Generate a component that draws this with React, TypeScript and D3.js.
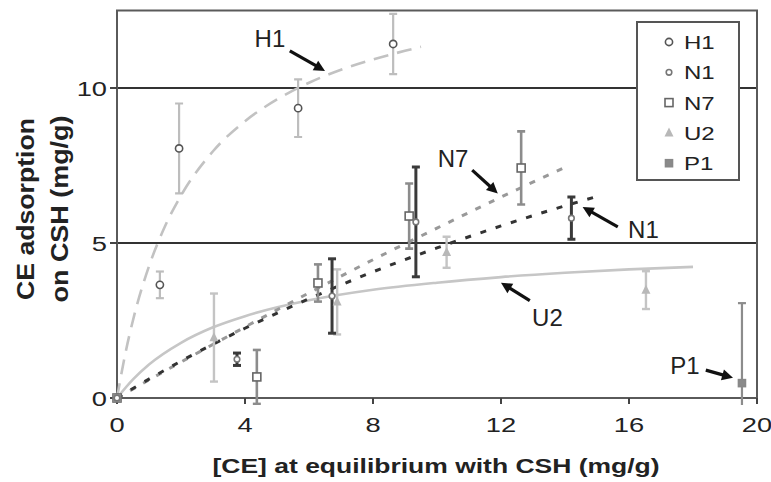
import React from "react";
import * as d3 from "d3";

// ---- data ----
const xTicks = [0, 4, 8, 12, 16, 20];
const yTicks = [0, 5, 10];
const gridLines = [5, 10];

// measured points: [x, y, errorHalfWidth]
const h1Points: [number, number, number][] = [
  [0, 0, 0], [1.34, 3.65, 0.43], [1.94, 8.05, 1.45], [5.66, 9.35, 0.93], [8.63, 11.42, 0.97],
];
const n1Points: [number, number, number][] = [
  [0, 0, 0], [3.75, 1.25, 0.2], [6.72, 3.29, 1.2], [9.34, 5.68, 1.77], [14.2, 5.8, 0.68],
];
const n7Points: [number, number, number][] = [
  [0, 0, 0], [4.37, 0.68, 0.87], [6.28, 3.71, 0.6], [9.13, 5.87, 1.05], [12.63, 7.42, 1.18],
];
const u2Points: [number, number, number][] = [
  [0, 0, 0], [3.03, 1.95, 1.42], [6.88, 3.1, 1.05], [10.3, 4.7, 0.5], [16.53, 3.48, 0.61],
];
const p1Points: [number, number, number][] = [
  [0, 0, 0], [19.53, 0.48, 2.58],
];

// fitted curves: x and y arrays
const h1CurveX = [0, 0.25, 0.5, 1, 1.5, 2, 3, 4, 5, 6, 7, 8, 9, 9.5];
const h1CurveY = [0, 1.38, 2.51, 4.25, 5.54, 6.53, 7.96, 8.93, 9.63, 10.17, 10.59, 10.92, 11.2, 11.33];
const n1CurveX = [0, 1, 2, 4, 6, 8, 10, 12, 14, 15];
const n1CurveY = [0, 0.61, 1.19, 2.25, 3.2, 4.07, 4.84, 5.55, 6.2, 6.5];
const n7CurveX = [0, 2, 4, 6, 8, 10, 12, 14];
const n7CurveY = [0, 1.16, 2.29, 3.39, 4.46, 5.48, 6.48, 7.44];
const u2CurveX = [0, 0.5, 1, 2, 3, 4, 6, 8, 10, 12, 14, 16, 18];
const u2CurveY = [0, 0.6, 1.08, 1.78, 2.28, 2.64, 3.15, 3.49, 3.72, 3.9, 4.04, 4.15, 4.23];

const legendLabels = ["H1", "N1", "N7", "U2", "P1"];

// annotation labels: label position and arrow (from -> to), in data units
const annotations: { label: string; tx: number; ty: number; fx: number; fy: number; ax: number; ay: number }[] = [
  { label: "H1", tx: 4.78, ty: 11.62, fx: 5.4, fy: 11.2, ax: 6.5, ay: 10.55 },
  { label: "N7", tx: 10.5, ty: 7.75, fx: 11.1, fy: 7.35, ax: 11.9, ay: 6.6 },
  { label: "N1", tx: 16.45, ty: 5.45, fx: 15.65, fy: 5.52, ax: 14.55, ay: 6.16 },
  { label: "U2", tx: 13.45, ty: 2.6, fx: 12.9, fy: 3.14, ax: 12.0, ay: 3.72 },
  { label: "P1", tx: 17.75, ty: 1.08, fx: 18.4, fy: 0.9, ax: 19.25, ay: 0.65 },
];

const W = 771;
const H = 482;

export default function App() {
  const x = d3.scaleLinear().domain([0, 20]).range([117, 757]);
  const y = d3.scaleLinear().domain([0, 12.5]).range([398, 10.5]);

  const line = d3
    .line<[number, number]>()
    .x((d) => x(d[0]))
    .y((d) => y(d[1]))
    .curve(d3.curveMonotoneX);

  const zip = (xs: number[], ys: number[]) => xs.map((v, i) => [v, ys[i]] as [number, number]);

  const font = "'Liberation Sans', Arial, Helvetica, sans-serif";

  const errorBars = (pts: [number, number, number][], color: string, width: number) =>
    pts
      .filter((p) => p[2] > 0)
      .map((p, i) => {
        const cx = x(p[0]);
        const top = y(p[1] + p[2]);
        const bot = y(p[1] - p[2]);
        return (
          <g key={i} stroke={color} strokeWidth={width}>
            <line x1={cx} x2={cx} y1={top} y2={bot} />
            <line x1={cx - 4} x2={cx + 4} y1={top} y2={top} />
            <line x1={cx - 4} x2={cx + 4} y1={bot} y2={bot} />
          </g>
        );
      });

  const circle = (cx: number, cy: number, r: number, stroke: string, k: string) => (
    <circle key={k} cx={cx} cy={cy} r={r} fill="white" stroke={stroke} strokeWidth={1.6} />
  );
  const square = (cx: number, cy: number, s: number, stroke: string, fill: string, k: string) => (
    <rect key={k} x={cx - s / 2} y={cy - s / 2} width={s} height={s} fill={fill} stroke={stroke} strokeWidth={1.6} />
  );
  const triangle = (cx: number, cy: number, s: number, fill: string, k: string) => (
    <path
      key={k}
      d={`M${cx},${cy - s * 0.6}L${cx + s / 2},${cy + s * 0.4}L${cx - s / 2},${cy + s * 0.4}Z`}
      fill={fill}
    />
  );

  const markerFor = (name: string, cx: number, cy: number, k: string) => {
    switch (name) {
      case "H1":
        return circle(cx, cy, 3.6, "#555", k);
      case "N1":
        return circle(cx, cy, 2.8, "#777", k);
      case "N7":
        return square(cx, cy, 8, "#666", "white", k);
      case "U2":
        return triangle(cx, cy, 9, "#b8b8b8", k);
      default:
        return square(cx, cy, 7, "#888", "#8a8a8a", k);
    }
  };

  const stretchText = (
    txt: string,
    tx: number,
    ty: number,
    size: number,
    sx: number,
    anchor: "start" | "middle" | "end",
    k: string,
    weight = "normal",
  ) => (
    <text
      key={k}
      transform={`translate(${tx},${ty}) scale(${sx},1)`}
      textAnchor={anchor}
      fontSize={size}
      fontFamily={font}
      fontWeight={weight}
      fill="#222"
    >
      {txt}
    </text>
  );

  const arrowHead = (fx: number, fy: number, ax: number, ay: number) => {
    const ang = Math.atan2(ay - fy, ax - fx);
    const len = 11;
    const wid = 5.5;
    const bx = ax - len * Math.cos(ang);
    const by = ay - len * Math.sin(ang);
    const px = -Math.sin(ang) * wid;
    const py = Math.cos(ang) * wid;
    return `M${ax},${ay}L${bx + px},${by + py}L${bx - px},${by - py}Z`;
  };

  const series: { name: string; pts: [number, number, number][]; ec: string; ew: number }[] = [
    { name: "U2", pts: u2Points, ec: "#c4c4c4", ew: 2.4 },
    { name: "H1", pts: h1Points, ec: "#bdbdbd", ew: 2.2 },
    { name: "N7", pts: n7Points, ec: "#8c8c8c", ew: 2.6 },
    { name: "P1", pts: p1Points, ec: "#8c8c8c", ew: 2.2 },
    { name: "N1", pts: n1Points, ec: "#3a3a3a", ew: 3 },
  ];

  const legendX = 637;
  const legendY = 22;

  return (
    <svg width={W} height={H} style={{ position: "absolute", left: 0, top: 0, background: "white" }}>
      <defs>
        <clipPath id="plotclip">
          <rect x={x(0)} y={y(12.5)} width={x(20) - x(0)} height={y(0) - y(12.5) + 7} />
        </clipPath>
      </defs>
      <rect x={0} y={0} width={W} height={H} fill="white" />

      {/* gridlines */}
      {gridLines.map((g) => (
        <line key={g} x1={x(0)} x2={x(20)} y1={y(g)} y2={y(g)} stroke="#333" strokeWidth={2} />
      ))}

      {/* frame */}
      <rect
        x={x(0)}
        y={y(12.5)}
        width={x(20) - x(0)}
        height={y(0) - y(12.5)}
        fill="none"
        stroke="#5a5a5a"
        strokeWidth={2}
      />

      {/* ticks */}
      {xTicks.map((t) => (
        <line key={"xt" + t} x1={x(t)} x2={x(t)} y1={y(0)} y2={y(0) + 6} stroke="#444" strokeWidth={2} />
      ))}
      {yTicks.map((t) => (
        <line key={"yt" + t} x1={x(0) - 7} x2={x(0)} y1={y(t)} y2={y(t)} stroke="#444" strokeWidth={2} />
      ))}
      {xTicks.map((t) => stretchText(String(t), x(t), 432, 21, 1.3, "middle", "xl" + t))}
      {yTicks.map((t) => stretchText(String(t), 107, y(t) + 7.5, 21, 1.3, "end", "yl" + t))}

      {/* curves */}
      <g fill="none">
        <path d={line(zip(u2CurveX, u2CurveY)) || ""} stroke="#c6c6c6" strokeWidth={2.6} />
        <path
          d={line(zip(h1CurveX, h1CurveY)) || ""}
          stroke="#c2c2c2"
          strokeWidth={2.6}
          strokeDasharray="15 9"
        />
        <path
          d={line(zip(n7CurveX, n7CurveY)) || ""}
          stroke="#999"
          strokeWidth={3}
          strokeDasharray="6 9"
        />
        <path
          d={line(zip(n1CurveX, n1CurveY)) || ""}
          stroke="#333"
          strokeWidth={3}
          strokeDasharray="6 10"
        />
      </g>

      {/* error bars */}
      <g clipPath="url(#plotclip)">{series.map((s) => <g key={s.name}>{errorBars(s.pts, s.ec, s.ew)}</g>)}</g>

      {/* markers */}
      {series.map((s) => (
        <g key={"m" + s.name}>{s.pts.map((p, i) => markerFor(s.name, x(p[0]), y(p[1]), s.name + i))}</g>
      ))}

      {/* annotations */}
      {annotations.map((a) => {
        const fx = x(a.fx), fy = y(a.fy), ax = x(a.ax), ay = y(a.ay);
        const ang = Math.atan2(ay - fy, ax - fx);
        return (
          <g key={"an" + a.label}>
            <text
              x={x(a.tx)}
              y={y(a.ty) + 9}
              textAnchor="middle"
              fontSize={24}
              fontFamily={font}
              fill="#222"
            >
              {a.label}
            </text>
            <line
              x1={fx}
              y1={fy}
              x2={ax - 8 * Math.cos(ang)}
              y2={ay - 8 * Math.sin(ang)}
              stroke="#111"
              strokeWidth={3.2}
            />
            <path d={arrowHead(fx, fy, ax, ay)} fill="#111" />
          </g>
        );
      })}

      {/* legend */}
      <rect x={legendX} y={legendY} width={102} height={158} fill="white" stroke="#555" strokeWidth={2} />
      {legendLabels.map((l, i) => {
        const cy = 42 + i * 30.3;
        return (
          <g key={"lg" + l}>
            {markerFor(l, 669, cy, "lgm" + l)}
            {stretchText(l, 684, cy + 7, 18.5, 1.3, "start", "lgt" + l)}
          </g>
        );
      })}

      {/* axis titles */}
      <text
        x={436}
        y={473}
        textAnchor="middle"
        fontSize={21}
        fontWeight="bold"
        fontFamily={font}
        fill="#222"
        textLength={447}
        lengthAdjust="spacingAndGlyphs"
      >
        [CE] at equilibrium with CSH (mg/g)
      </text>
      <g transform="translate(34,209) rotate(-90)">
        <text
          x={0}
          y={0}
          textAnchor="middle"
          fontSize={23}
          fontWeight="bold"
          fontFamily={font}
          fill="#222"
          textLength={182}
          lengthAdjust="spacingAndGlyphs"
        >
          CE adsorption
        </text>
      </g>
      <g transform="translate(68,209) rotate(-90)">
        <text
          x={0}
          y={0}
          textAnchor="middle"
          fontSize={23}
          fontWeight="bold"
          fontFamily={font}
          fill="#222"
          textLength={187}
          lengthAdjust="spacingAndGlyphs"
        >
          on CSH (mg/g)
        </text>
      </g>
    </svg>
  );
}
